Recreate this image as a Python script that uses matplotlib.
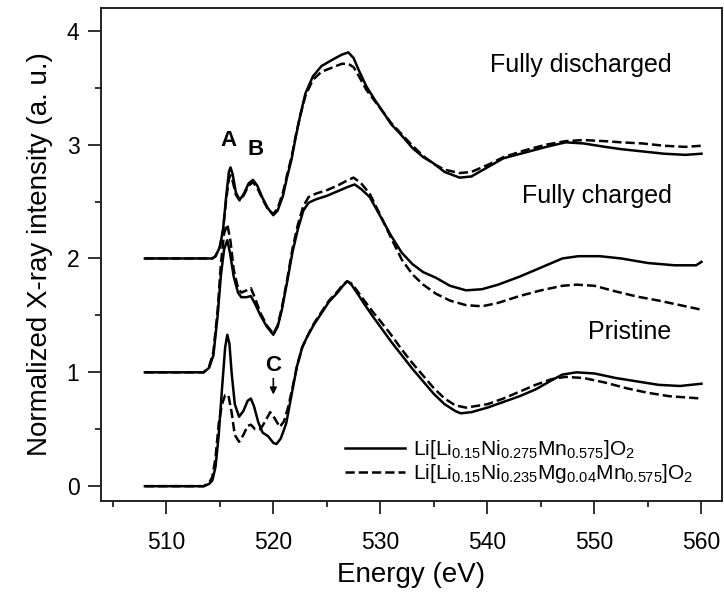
import matplotlib
matplotlib.use("Agg")
import matplotlib.pyplot as plt
from matplotlib.ticker import MultipleLocator

plt.rcParams['font.family'] = ['Liberation Sans', 'DejaVu Sans']
plt.rcParams['mathtext.default'] = 'regular'

# ---- data (energy in eV, normalized intensity incl. offsets) ----
pri_sol_e = [508.0, 510.0, 512.0, 513.5, 514.0, 514.3, 514.6, 514.9, 515.2, 515.5, 515.7, 515.9, 516.1, 516.4,
             516.8, 517.2, 517.6, 517.9, 518.2, 518.6, 519.0, 519.5, 520.0, 520.3, 520.7, 521.2, 521.7, 522.2,
             522.7, 523.2, 523.8, 524.5, 525.2, 526.0, 526.5, 526.9, 527.3, 527.8, 528.5, 529.3, 530.0, 531.0,
             532.0, 533.0, 534.0, 535.0, 536.0, 537.0, 537.5, 538.5, 540.0, 541.5, 543.0, 544.5, 546.0, 547.0,
             548.3, 550.0, 552.0, 554.0, 556.0, 558.0, 560.0]
pri_sol_i = [0.00, 0.00, 0.00, 0.00, 0.02, 0.05, 0.17, 0.45, 0.85, 1.22, 1.33, 1.25, 1.00, 0.72,
             0.61, 0.66, 0.75, 0.77, 0.70, 0.56, 0.47, 0.44, 0.38, 0.37, 0.42, 0.55, 0.80, 1.05,
             1.22, 1.32, 1.42, 1.52, 1.62, 1.70, 1.76, 1.80, 1.77, 1.70, 1.60, 1.49, 1.40, 1.27,
             1.15, 1.03, 0.92, 0.81, 0.72, 0.66, 0.64, 0.65, 0.69, 0.74, 0.79, 0.85, 0.93, 0.98,
             1.00, 0.99, 0.95, 0.92, 0.89, 0.88, 0.90]

pri_das_e = [508.0, 513.5, 514.0, 514.3, 514.6, 514.9, 515.2, 515.5, 515.8, 516.1, 516.4, 516.8, 517.2, 517.6,
             517.9, 518.3, 518.8, 519.3, 519.7, 520.1, 520.6, 521.0, 521.4, 521.8, 522.2, 522.7, 523.2, 523.8,
             524.5, 525.2, 526.0, 526.5, 526.9, 527.3, 527.8, 528.5, 529.3, 530.0, 531.0, 532.0, 533.0, 534.0,
             535.0, 536.0, 537.0, 538.0, 540.0, 541.5, 543.0, 544.5, 546.0, 547.3, 549.0, 551.0, 553.0, 555.0,
             557.0, 560.0]
pri_das_i = [0.00, 0.00, 0.03, 0.08, 0.25, 0.55, 0.72, 0.80, 0.80, 0.65, 0.45, 0.39, 0.45, 0.53,
             0.54, 0.50, 0.50, 0.58, 0.65, 0.60, 0.52, 0.57, 0.70, 0.87, 1.05, 1.22, 1.32, 1.43,
             1.53, 1.63, 1.71, 1.77, 1.80, 1.78, 1.72, 1.63, 1.53, 1.45, 1.33, 1.20, 1.08, 0.97,
             0.86, 0.77, 0.71, 0.69, 0.72, 0.77, 0.83, 0.89, 0.94, 0.96, 0.95, 0.91, 0.86, 0.82,
             0.79, 0.77]

chg_sol_e = [508.0, 513.5, 514.0, 514.4, 514.8, 515.1, 515.4, 515.7, 515.95, 516.3, 516.7, 517.0, 517.5, 517.9,
             518.3, 518.8, 519.4, 520.0, 520.4, 520.8, 521.3, 521.8, 522.3, 522.8, 523.3, 524.0, 525.0, 526.0,
             527.0, 527.6, 528.2, 529.0, 530.0, 531.0, 532.0, 533.0, 534.0, 535.2, 536.5, 538.0, 539.5, 541.0,
             543.0, 545.0, 547.0, 548.5, 550.5, 552.5, 555.0, 557.5, 559.5, 560.0]
chg_sol_i = [1.00, 1.00, 1.04, 1.15, 1.50, 1.85, 2.08, 2.16, 2.05, 1.84, 1.70, 1.66, 1.66, 1.67,
             1.60, 1.50, 1.40, 1.33, 1.40, 1.55, 1.80, 2.06, 2.26, 2.42, 2.49, 2.52, 2.55, 2.59,
             2.63, 2.65, 2.61, 2.54, 2.37, 2.20, 2.05, 1.95, 1.88, 1.83, 1.76, 1.72, 1.73, 1.77,
             1.84, 1.92, 2.00, 2.02, 2.02, 2.00, 1.96, 1.94, 1.94, 1.97]

chg_das_e = [508.0, 513.5, 514.0, 514.4, 514.8, 515.1, 515.4, 515.7, 516.0, 516.3, 516.7, 517.0, 517.5, 517.9,
             518.3, 518.8, 519.4, 520.0, 520.4, 520.8, 521.3, 521.8, 522.3, 522.8, 523.3, 524.0, 525.0, 526.0,
             527.0, 527.5, 528.2, 529.0, 530.0, 531.0, 532.0, 533.0, 534.0, 535.2, 536.5, 538.0, 539.5, 541.0,
             543.0, 545.0, 547.0, 548.3, 550.0, 552.0, 554.0, 556.0, 558.0, 560.0]
chg_das_i = [1.00, 1.00, 1.05, 1.18, 1.55, 1.95, 2.22, 2.30, 2.15, 1.90, 1.74, 1.70, 1.72, 1.74,
             1.65, 1.52, 1.41, 1.34, 1.41, 1.57, 1.82, 2.09, 2.30, 2.46, 2.54, 2.57, 2.60, 2.64,
             2.69, 2.71, 2.66, 2.57, 2.38, 2.18, 1.99, 1.86, 1.77, 1.69, 1.63, 1.59, 1.58, 1.61,
             1.67, 1.72, 1.76, 1.77, 1.76, 1.71, 1.665, 1.63, 1.59, 1.55]

dis_sol_e = [508.0, 513.5, 514.3, 514.6, 515.0, 515.3, 515.6, 515.85, 516.0, 516.2, 516.5, 516.85, 517.2, 517.7,
             518.1, 518.5, 519.0, 519.5, 520.0, 520.4, 520.9, 521.3, 521.7, 522.1, 522.5, 523.0, 523.7, 524.5,
             525.6, 526.4, 527.0, 527.5, 528.0, 528.7, 529.5, 530.3, 531.0, 531.8, 533.0, 534.0, 534.9, 536.0,
             537.4, 538.5, 540.0, 541.5, 543.5, 545.5, 547.3, 549.0, 551.0, 552.5, 554.5, 556.5, 558.5, 560.0]
dis_sol_i = [2.00, 2.00, 2.00, 2.02, 2.10, 2.25, 2.55, 2.76, 2.80, 2.74, 2.58, 2.515, 2.56, 2.66,
             2.69, 2.64, 2.53, 2.44, 2.38, 2.42, 2.55, 2.72, 2.87, 3.07, 3.25, 3.45, 3.60, 3.69,
             3.75, 3.79, 3.81, 3.76, 3.65, 3.51, 3.39, 3.28, 3.18, 3.10, 2.97, 2.89, 2.84, 2.76,
             2.71, 2.72, 2.80, 2.88, 2.93, 2.98, 3.02, 3.01, 2.98, 2.96, 2.94, 2.92, 2.91, 2.92]

dis_das_e = [508.0, 513.5, 514.3, 514.6, 515.0, 515.3, 515.6, 515.85, 516.0, 516.2, 516.5, 516.85, 517.2, 517.7,
             518.1, 518.5, 519.0, 519.5, 520.0, 520.4, 520.9, 521.3, 521.7, 522.1, 522.5, 523.0, 523.7, 524.5,
             525.6, 526.4, 527.0, 527.5, 528.0, 528.7, 529.5, 530.3, 531.0, 531.8, 533.0, 534.0, 535.0, 536.0,
             537.4, 538.5, 540.0, 541.5, 543.5, 545.5, 547.3, 549.0, 551.0, 552.5, 554.5, 556.5, 558.5, 560.0]
dis_das_i = [2.00, 2.00, 2.00, 2.02, 2.10, 2.25, 2.52, 2.70, 2.73, 2.68, 2.56, 2.51, 2.55, 2.64,
             2.67, 2.62, 2.52, 2.43, 2.39, 2.44, 2.58, 2.74, 2.89, 3.08, 3.25, 3.43, 3.57, 3.64,
             3.68, 3.71, 3.71, 3.68, 3.60, 3.48, 3.38, 3.28, 3.19, 3.11, 2.99, 2.90, 2.83, 2.78,
             2.75, 2.76, 2.82, 2.89, 2.95, 3.00, 3.03, 3.04, 3.03, 3.02, 3.01, 2.99, 2.98, 2.99]

legend_labels = [r'Li[Li$_{0.15}$Ni$_{0.275}$Mn$_{0.575}$]O$_{2}$',
                 r'Li[Li$_{0.15}$Ni$_{0.235}$Mg$_{0.04}$Mn$_{0.575}$]O$_{2}$']
state_labels = ['Fully discharged', 'Fully charged', 'Pristine']
x_ticks = [510, 520, 530, 540, 550, 560]
y_ticks = [0, 1, 2, 3, 4]

# ---- figure ----
fig = plt.figure(figsize=(7.24, 5.95), dpi=100)
ax = fig.add_axes([0.1395, 0.158, 0.8575, 0.8286])

lw = 1.8
l1, = ax.plot(pri_sol_e, pri_sol_i, 'k-', lw=lw)
l2, = ax.plot(pri_das_e, pri_das_i, 'k--', lw=lw)
ax.plot(chg_sol_e, chg_sol_i, 'k-', lw=lw)
ax.plot(chg_das_e, chg_das_i, 'k--', lw=lw)
ax.plot(dis_sol_e, dis_sol_i, 'k-', lw=lw)
ax.plot(dis_das_e, dis_das_i, 'k--', lw=lw)

ax.set_xlim(503.9, 561.9)
ax.set_ylim(-0.13, 4.2)
ax.set_xticks(x_ticks)
ax.set_yticks(y_ticks)
ax.xaxis.set_minor_locator(MultipleLocator(5))
ax.yaxis.set_minor_locator(MultipleLocator(0.5))
ax.tick_params(which='major', direction='out', length=9.5, width=1.3, labelsize=16.5, color='#222222')
ax.tick_params(which='minor', direction='out', length=4.5, width=1.3, color='#222222')
ax.tick_params(axis='x', which='major', pad=12)
ax.tick_params(axis='y', which='major', pad=6)
for s in ax.spines.values():
    s.set_linewidth(1.4)
    s.set_color('#222222')

ax.set_xlabel('Energy (eV)', fontsize=20, labelpad=6)
ax.set_ylabel('Normalized X-ray intensity (a. u.)', fontsize=20, labelpad=10)

# state labels
ax.text(557.2, 3.70, state_labels[0], fontsize=18, ha='right', va='center')
ax.text(557.2, 2.55, state_labels[1], fontsize=18, ha='right', va='center')
ax.text(557.2, 1.35, state_labels[2], fontsize=18, ha='right', va='center')

# peak labels
ax.text(515.8, 3.04, 'A', fontsize=16, fontweight='bold', ha='center', va='center')
ax.text(518.3, 2.96, 'B', fontsize=16, fontweight='bold', ha='center', va='center')
ax.text(520.0, 1.06, 'C', fontsize=16, fontweight='bold', ha='center', va='center')
ax.annotate('', xy=(520.0, 0.78), xytext=(520.0, 0.97),
            arrowprops=dict(arrowstyle='-|>', color='k', lw=1.2, mutation_scale=10))

ax.legend([l1, l2], legend_labels, loc='upper left', bbox_to_anchor=(0.393, 0.128),
          frameon=False, fontsize=15, handlelength=2.9, handletextpad=0.35,
          borderpad=0, borderaxespad=0, labelspacing=0.05)

fig.savefig('out.png', dpi=100)
